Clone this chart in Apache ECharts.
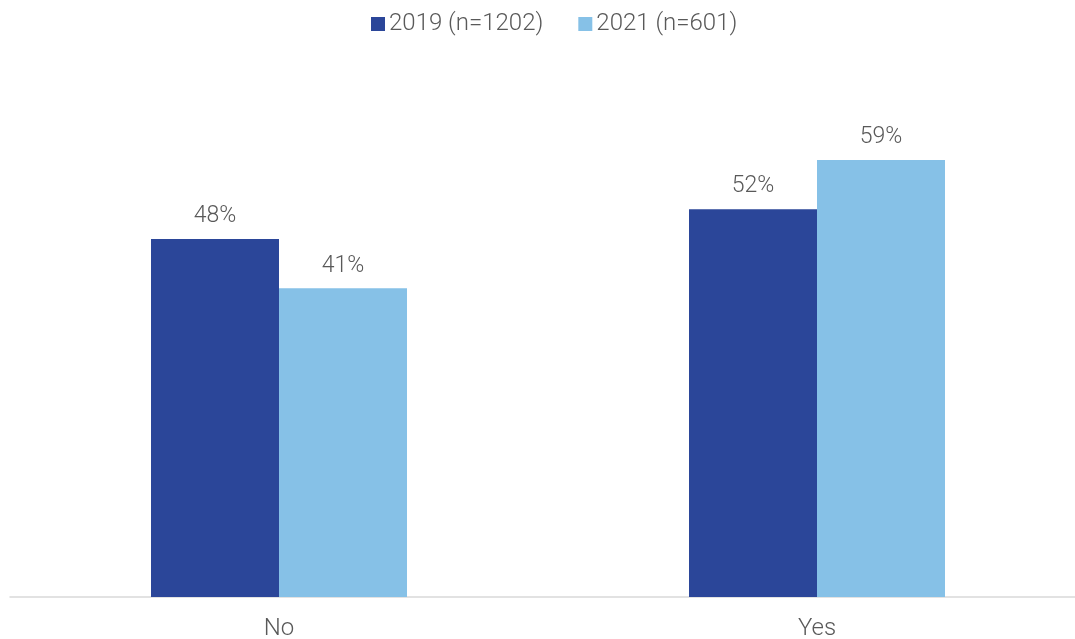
<!DOCTYPE html>
<html>
<head>
<meta charset="utf-8">
<script src="https://cdn.jsdelivr.net/npm/echarts@6/dist/echarts.min.js"></script>
<style>html,body{margin:0;padding:0;background:#fff}#c{width:1075px;height:639px}</style>
</head>
<body>
<div id="c"></div>
<script>
const categories = ['No', 'Yes'];
const seriesNames = ['2019 (n=1202)', '2021 (n=601)'];
const values2019 = [48.0, 52.0];
const values2021 = [41.4, 58.6];

const chart = echarts.init(document.getElementById('c'), null, {renderer: 'canvas'});
const labelStyle = {
  show: true, position: 'top', distance: 11,
  formatter: p => Math.round(p.value) + '%',
  fontFamily: 'Roboto', fontWeight: 300, fontSize: 23, color: '#595959'
};
chart.setOption({
  animation: false,
  textStyle: {fontFamily: 'Roboto'},
  legend: {
    top: 7, left: 366,
    itemWidth: 14, itemHeight: 14, itemGap: 35,
    icon: 'rect',
    textStyle: {fontFamily: 'Roboto', fontWeight: 300, fontSize: 24, color: '#595959', padding: [0, 0, 0, -1]},
    data: seriesNames
  },
  grid: {left: 10, width: 1076, top: 75, bottom: 42, containLabel: false, outerBoundsMode: 'none'},
  xAxis: {
    type: 'category', data: categories,
    axisLine: {lineStyle: {color: '#D9D9D9', width: 1.5}},
    axisTick: {show: false},
    axisLabel: {fontFamily: 'Roboto', fontWeight: 300, fontSize: 24, color: '#595959', margin: 20}
  },
  yAxis: {type: 'value', min: 0, max: 70, show: false, splitLine: {show: false}},
  series: [
    {name: seriesNames[0], type: 'bar', data: values2019, barWidth: 128, barGap: '0%',
     itemStyle: {color: '#2B4699'}, label: labelStyle},
    {name: seriesNames[1], type: 'bar', data: values2021, barWidth: 128, barGap: '0%',
     itemStyle: {color: '#86C1E7'}, label: labelStyle}
  ]
});
</script>
</body>
</html>
